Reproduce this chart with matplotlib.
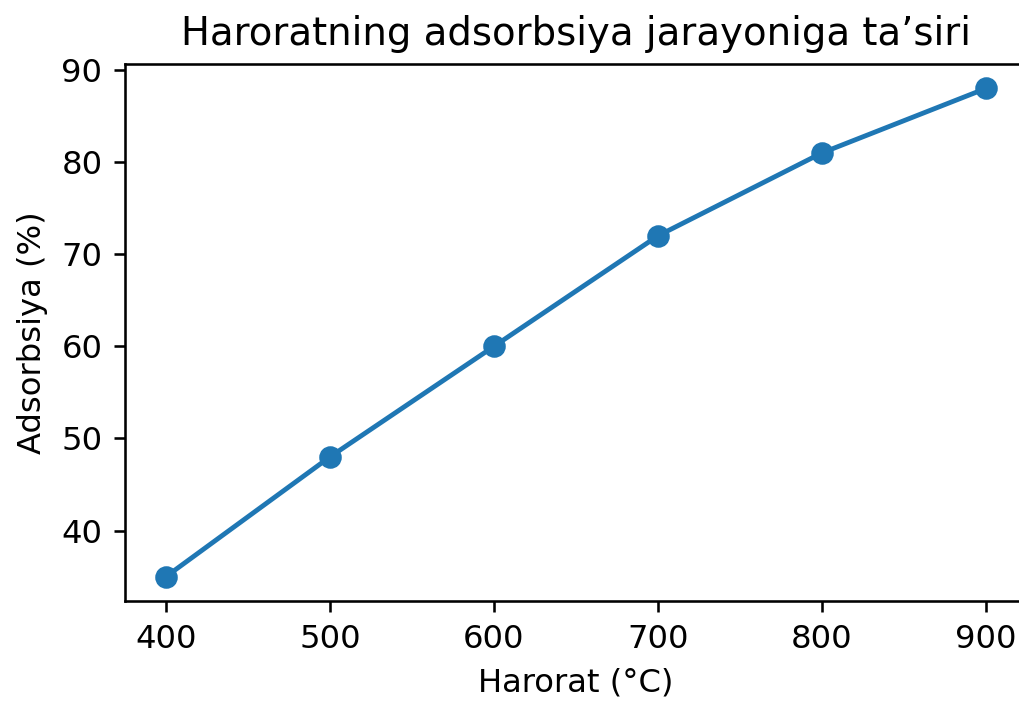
import matplotlib
matplotlib.use("Agg")
import matplotlib.pyplot as plt

# data
harorat = [400, 500, 600, 700, 800, 900]
adsorbsiya = [35, 48, 60, 72, 81, 88]

DPI = 232
fig = plt.figure(figsize=(1019 / DPI, 702 / DPI), dpi=DPI)
# axes run past the right edge like in the reference (cropped picture)
ax = fig.add_axes([125 / 1019, 101 / 702, 902 / 1019, 537 / 702])

ax.plot(harorat, adsorbsiya, marker='o')
ax.set_title("Haroratning adsorbsiya jarayoniga ta\u2019siri")
ax.set_xlabel("Harorat (\u00b0C)")
ax.set_ylabel("Adsorbsiya (%)")

fig.savefig("out.png", dpi=DPI)
